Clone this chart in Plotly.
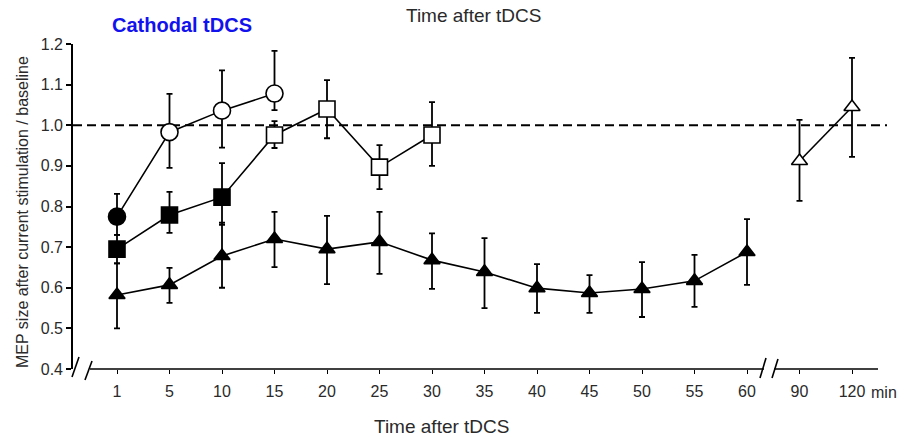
import plotly.graph_objects as go

# ---- data ----
tick_labels = [1, 5, 10, 15, 20, 25, 30, 35, 40, 45, 50, 55, 60, 90, 120]

circ_x = [1, 5, 10, 15]
circ_y = [0.775, 0.983, 1.036, 1.078]
circ_up = [0.831, 1.077, 1.135, 1.183]
circ_lo = [0.730, 0.895, 0.945, 1.037]
circ_filled = [True, False, False, False]

sq_x = [1, 5, 10, 15, 20, 25, 30]
sq_y = [0.695, 0.779, 0.823, 0.976, 1.040, 0.897, 0.976]
sq_up = [0.730, 0.836, 0.907, 1.010, 1.111, 0.951, 1.057]
sq_lo = [0.660, 0.735, 0.755, 0.944, 0.968, 0.843, 0.900]
sq_filled = [True, True, True, False, False, False, False]

tri_x = [1, 5, 10, 15, 20, 25, 30, 35, 40, 45, 50, 55, 60]
tri_y = [0.582, 0.607, 0.678, 0.720, 0.695, 0.713, 0.668, 0.639, 0.599, 0.587, 0.597, 0.617, 0.688]
tri_up = [0.660, 0.649, 0.760, 0.787, 0.777, 0.787, 0.734, 0.722, 0.658, 0.631, 0.663, 0.681, 0.769]
tri_lo = [0.500, 0.563, 0.600, 0.651, 0.609, 0.634, 0.597, 0.550, 0.538, 0.538, 0.528, 0.553, 0.607]

otri_x = [90, 120]
otri_y = [0.912, 1.045]
otri_up = [1.013, 1.166]
otri_lo = [0.814, 0.922]

# ---- layout helpers ----
W, H = 904, 439
L, R, T, B = 73, 17, 44, 70
X0_PX, DX_PX = 117, 52.5  # pixel of first tick, spacing per tick
pos = {t: i for i, t in enumerate(tick_labels)}


def idx(xs):
    return [pos[v] for v in xs]


def xp(px):
    return (px - L) / (W - L - R)


def yp(py):
    return (H - B - py) / (H - B - T)


xrange = [(L - X0_PX) / DX_PX, (W - R - X0_PX) / DX_PX]

FONT = "Liberation Sans, Arial, sans-serif"
TXT = "#2a2a2a"
fig = go.Figure()


def add_series(x, y, up, lo, symbol, filled, size):
    fig.add_trace(go.Scatter(
        x=idx(x), y=y, mode="lines+markers",
        line=dict(color="black", width=1.6),
        marker=dict(symbol=symbol, size=size,
                    color=["black" if f else "white" for f in filled],
                    line=dict(color="black", width=1.6)),
        error_y=dict(type="data", symmetric=False,
                     array=[u - v for u, v in zip(up, y)],
                     arrayminus=[v - l for v, l in zip(y, lo)],
                     color="black", thickness=1.8, width=3),
        showlegend=False, cliponaxis=False,
    ))


add_series(tri_x, tri_y, tri_up, tri_lo, "triangle-up", [True] * len(tri_x), 14)
add_series(otri_x, otri_y, otri_up, otri_lo, "triangle-up", [False] * len(otri_x), 14)
add_series(sq_x, sq_y, sq_up, sq_lo, "square", sq_filled, 16)
add_series(circ_x, circ_y, circ_up, circ_lo, "circle", circ_filled, 17)

shapes = []
# dashed baseline at 1.0
shapes.append(dict(type="line", xref="paper", yref="y", x0=0, x1=1, y0=1.0, y1=1.0,
                   line=dict(color="black", width=2, dash="9px,5px"), layer="below"))
# x axis segments
for a, b in [(90, 764), (774, 878)]:
    shapes.append(dict(type="line", xref="paper", yref="paper", x0=xp(a), x1=xp(b),
                       y0=0, y1=0, line=dict(color="black", width=1.6)))
# break marks
for (ax, ay, bx, by) in [(72, 377, 79, 357), (85, 380, 92, 361),
                          (760, 378, 766, 358), (772, 378, 778, 359)]:
    shapes.append(dict(type="line", xref="paper", yref="paper",
                       x0=xp(ax), y0=yp(ay), x1=xp(bx), y1=yp(by),
                       line=dict(color="black", width=1.6)))


def ann(text, px, py, size, color=TXT, xanchor="center", angle=0):
    return dict(text=text, x=xp(px), y=yp(py), xref="paper", yref="paper",
                xanchor=xanchor, yanchor="middle", textangle=angle, showarrow=False,
                font=dict(family=FONT, size=size, color=color))


annotations = [
    ann("<b>Cathodal tDCS</b>", 182, 25, 20, color="#1212ee"),
    ann("Time after tDCS", 474, 16, 19),
    ann("Time after tDCS", 442, 426, 19),
    ann("min", 869, 392, 16, xanchor="left"),
    ann("MEP size after current stimulation / baseline", 22, 212, 16, angle=-90),
]

fig.update_layout(
    width=W, height=H,
    margin=dict(l=L, r=R, t=T, b=B),
    plot_bgcolor="white", paper_bgcolor="white",
    font=dict(family=FONT, size=16, color=TXT),
    xaxis=dict(range=xrange, tickmode="array", tickvals=list(range(len(tick_labels))),
               ticktext=[str(t) for t in tick_labels], showgrid=False, zeroline=False,
               showline=False, ticks="outside", ticklen=4, tickcolor="black",
               tickwidth=1.2, ticklabelstandoff=4),
    yaxis=dict(range=[0.4, 1.2], tickmode="array",
               tickvals=[0.4, 0.5, 0.6, 0.7, 0.8, 0.9, 1.0, 1.1, 1.2],
               ticktext=["0.4", "0.5", "0.6", "0.7", "0.8", "0.9", "1.0", "1.1", "1.2"],
               showgrid=False, zeroline=False, showline=True, linecolor="black",
               linewidth=1.6, ticks="outside", ticklen=5, tickcolor="black", tickwidth=1.6),
    shapes=shapes, annotations=annotations,
)

fig.write_html("out.html")
